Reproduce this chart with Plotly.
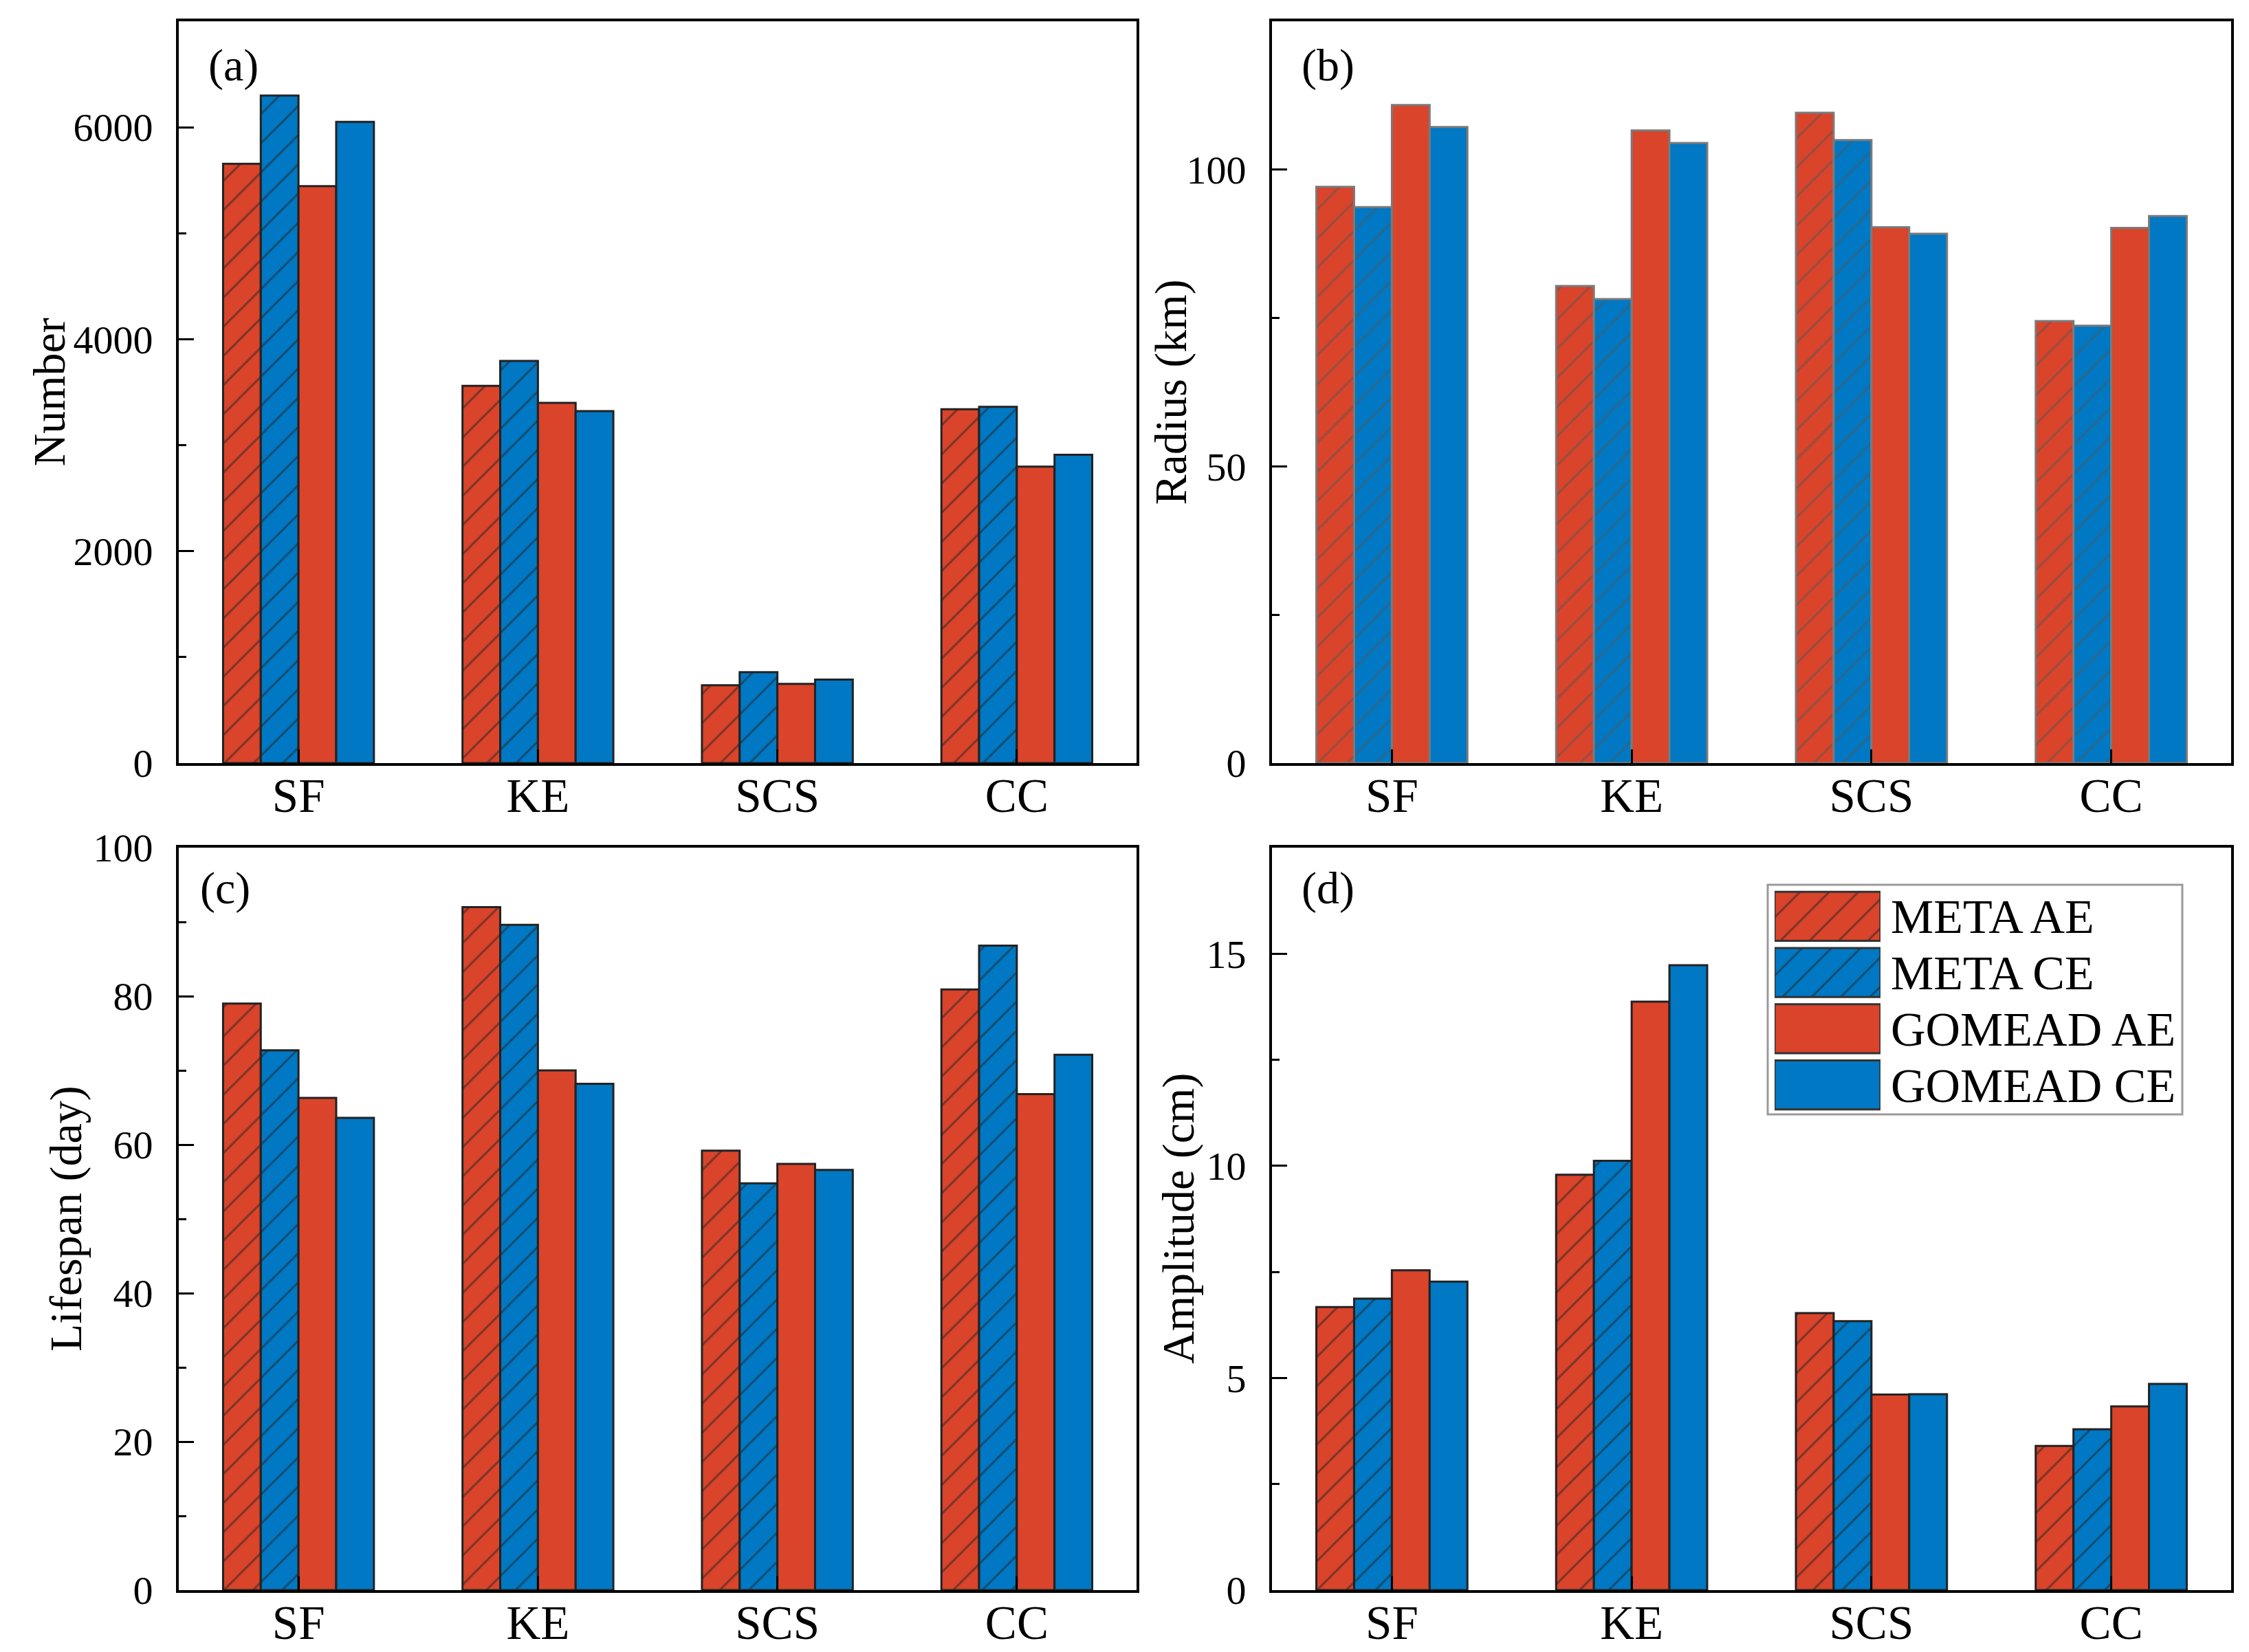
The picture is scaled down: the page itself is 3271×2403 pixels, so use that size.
import plotly.graph_objects as go

# ---------------- data ----------------
regions = ["SF", "KE", "SCS", "CC"]
series_names = ["META AE", "META CE", "GOMEAD AE", "GOMEAD CE"]

number_meta_ae = [5655, 3560, 734, 3340]
number_meta_ce = [6300, 3795, 858, 3362]
number_gomead_ae = [5445, 3400, 748, 2798]
number_gomead_ce = [6052, 3322, 788, 2910]

radius_meta_ae = [97.1, 80.4, 109.6, 74.5]
radius_meta_ce = [93.7, 78.2, 105.0, 73.7]
radius_gomead_ae = [110.9, 106.6, 90.3, 90.2]
radius_gomead_ce = [107.2, 104.5, 89.2, 92.2]

lifespan_meta_ae = [79.0, 92.0, 59.2, 80.9]
lifespan_meta_ce = [72.7, 89.6, 54.8, 86.8]
lifespan_gomead_ae = [66.3, 70.0, 57.4, 66.8]
lifespan_gomead_ce = [63.6, 68.2, 56.6, 72.1]

amplitude_meta_ae = [6.67, 9.79, 6.53, 3.40]
amplitude_meta_ce = [6.87, 10.12, 6.34, 3.79]
amplitude_gomead_ae = [7.54, 13.87, 4.61, 4.33]
amplitude_gomead_ce = [7.27, 14.73, 4.62, 4.86]

y_titles = ["Number", "Radius (km)", "Lifespan (day)", "Amplitude (cm)"]
panel_tags = ["(a)", "(b)", "(c)", "(d)"]

# ---------------- style ----------------
RED = "#D9442B"
BLUE = "#0078C3"
FONT = "Liberation Serif"
W, H = 3271, 2403

colors = [RED, BLUE, RED, BLUE]
hatched = [True, True, False, False]

# plot-area pixel boxes (left, right, top, bottom)
boxes = [
    (252, 1645, 23, 1102),
    (1842, 3237, 23, 1102),
    (252, 1645, 1225, 2305),
    (1842, 3237, 1225, 2305),
]
y_ranges = [[0, 7000], [0, 125], [0, 100], [0, 17.5]]
y_dticks = [2000, 50, 20, 5]
y_minor = [1000, 25, 10, 2.5]
outline_cols = ["#222222", "#7a7a7a", "#222222", "#222222"]
hatch_cols = ["#222222", "#555555", "#222222", "#222222"]
title_x = [63, 1695, 88, 1706]          # centre of rotated y titles (px)
tag_x = [293, 1883, 281, 1883]          # left edge of panel tags (px)
tag_y = [0.941, 0.941, 0.945, 0.945]

panels = [
    [number_meta_ae, number_meta_ce, number_gomead_ae, number_gomead_ce],
    [radius_meta_ae, radius_meta_ce, radius_gomead_ae, radius_gomead_ce],
    [lifespan_meta_ae, lifespan_meta_ce, lifespan_gomead_ae, lifespan_gomead_ce],
    [amplitude_meta_ae, amplitude_meta_ce, amplitude_gomead_ae, amplitude_gomead_ce],
]

fig = go.Figure()
layout = {}
annotations = []

for p, (vals_list, box) in enumerate(zip(panels, boxes)):
    ax = "" if p == 0 else str(p + 1)
    for s, vals in enumerate(vals_list):
        pattern = dict(shape="/" if hatched[s] else "", fgcolor=hatch_cols[p],
                       bgcolor=colors[s], size=30, solidity=0.1, fillmode="overlay")
        fig.add_trace(go.Bar(
            x=regions, y=vals, name=series_names[s],
            xaxis="x" + ax, yaxis="y" + ax,
            marker=dict(color=colors[s], line=dict(color=outline_cols[p], width=3),
                        pattern=pattern),
            showlegend=False,
        ))
    l, r, t, b = box
    layout["xaxis" + ax] = dict(
        domain=[l / W, r / W], anchor="y" + ax, type="category",
        range=[-0.5, 3.5], showline=True, linecolor="black", linewidth=4,
        mirror=True, ticks="inside", ticklen=20, tickwidth=3, tickcolor="black",
        tickfont=dict(family=FONT, size=69, color="black"),
        ticklabelstandoff=-16, showgrid=False, zeroline=False, automargin=False,
    )
    layout["yaxis" + ax] = dict(
        domain=[1 - b / H, 1 - t / H], anchor="x" + ax,
        range=y_ranges[p], dtick=y_dticks[p], tick0=0,
        showline=True, linecolor="black", linewidth=4, mirror=True,
        ticks="inside", ticklen=22, tickwidth=3, tickcolor="black",
        minor=dict(dtick=y_minor[p], tick0=0, ticks="inside", ticklen=11,
                   tickwidth=3, tickcolor="black"),
        tickfont=dict(family=FONT, size=58, color="black"),
        ticklabelstandoff=22,
        showgrid=False, zeroline=False, automargin=False,
    )
    annotations.append(dict(
        text=y_titles[p], xref="paper", yref="y" + ax + " domain",
        x=title_x[p] / W, y=0.5, xanchor="center", yanchor="middle",
        textangle=-90, showarrow=False,
        font=dict(family=FONT, size=66, color="black"),
    ))
    annotations.append(dict(
        text=panel_tags[p], xref="x" + ax + " domain", yref="y" + ax + " domain",
        x=(tag_x[p] - l) / (r - l), y=tag_y[p],
        xanchor="left", yanchor="middle", showarrow=False,
        font=dict(family=FONT, size=66, color="black"),
    ))

# ---------------- custom legend (drawn as a small bar chart) ----------------
for s, name in enumerate(series_names):
    fig.add_trace(go.Bar(
        x=[1], y=[name], orientation="h", xaxis="x5", yaxis="y5",
        width=0.87, offset=-0.435,
        marker=dict(color=colors[s], line=dict(color="#333333", width=3),
                    pattern=dict(shape="/" if hatched[s] else "",
                                 fgcolor="#222222", bgcolor=colors[s], size=30,
                                 solidity=0.1, fillmode="overlay")),
        showlegend=False, hoverinfo="skip",
    ))
layout["xaxis5"] = dict(domain=[2573 / W, 2727 / W], anchor="y5", range=[0, 1],
                        visible=False, fixedrange=True)
layout["yaxis5"] = dict(domain=[1 - 1611 / H, 1 - 1284 / H], anchor="x5",
                        type="category", categoryorder="array",
                        categoryarray=series_names, autorange="reversed",
                        side="right", tickmode="linear", tick0=0, dtick=1,
                        showline=False, ticks="", showgrid=False, zeroline=False,
                        tickfont=dict(family=FONT, size=70, color="black"),
                        ticklabelstandoff=14, automargin=False, fixedrange=True)

shapes = [dict(type="rect", xref="paper", yref="paper",
               x0=2563 / W, x1=3166 / W, y0=1 - 1613 / H, y1=1 - 1279 / H,
               line=dict(color="#9a9a9a", width=3), fillcolor="rgba(0,0,0,0)",
               layer="below")]

fig.update_layout(
    width=W, height=H, margin=dict(l=0, r=0, t=0, b=0),
    paper_bgcolor="white", plot_bgcolor="white",
    barmode="group", bargap=0.37, bargroupgap=0,
    annotations=annotations, shapes=shapes,
    font=dict(family=FONT, color="black"),
    **layout,
)

fig.write_html("out.html")
